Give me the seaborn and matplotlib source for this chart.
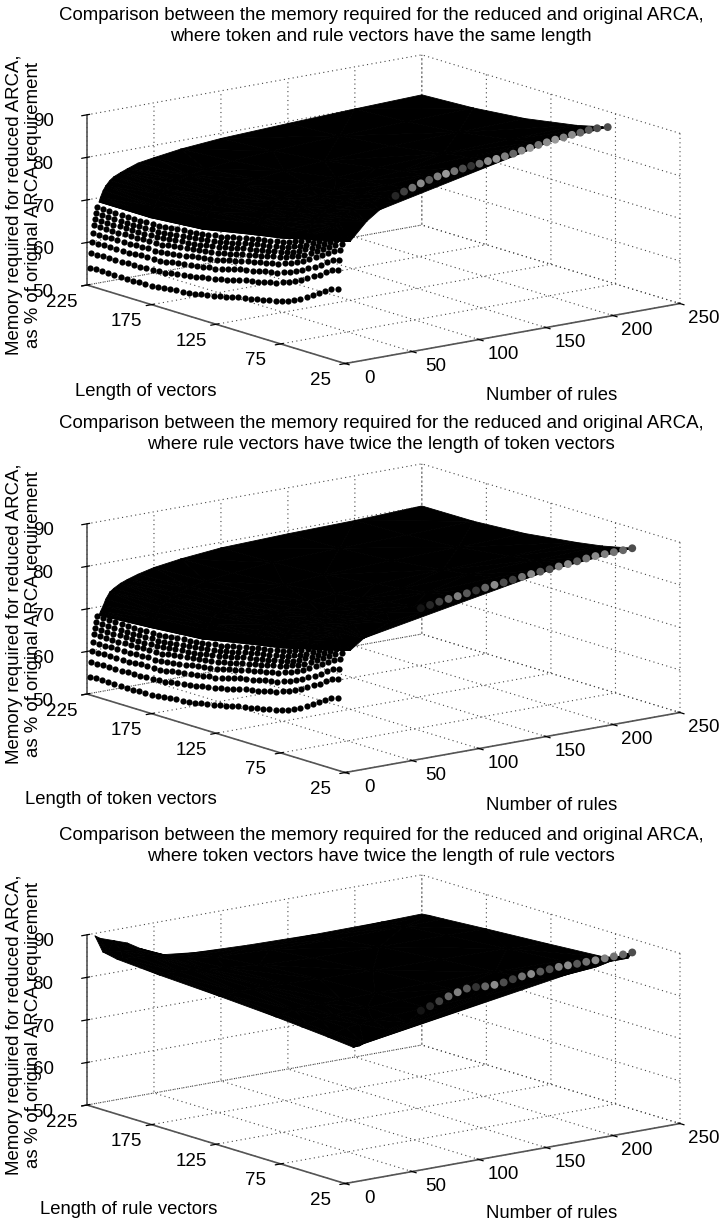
import numpy as np
import matplotlib
matplotlib.use("Agg")
import matplotlib.pyplot as plt
import seaborn as sns
from mpl_toolkits.mplot3d import proj3d

# axes
rule_ticks = [0, 50, 100, 150, 200, 250]
length_ticks = [25, 75, 125, 175, 225]
memory_ticks = [50, 60, 70, 80, 90]

titles = [
    "Comparison between the memory required for the reduced and original ARCA,\nwhere token and rule vectors have the same length",
    "Comparison between the memory required for the reduced and original ARCA,\nwhere rule vectors have twice the length of token vectors",
    "Comparison between the memory required for the reduced and original ARCA,\nwhere token vectors have twice the length of rule vectors",
]
length_labels = ["Length of vectors", "Length of token vectors", "Length of rule vectors"]
memory_label = "Memory required for reduced ARCA,\nas % of original ARCA requirement"

# the separate dotted rows at the low end (top two panels read the same here)
low_rules = [2, 2.7, 3.4, 4.2, 5.0, 5.8, 6.6, 7.4]
low_length = [225,220.2,215.4,210.6,205.8,201,196.2,191.4,186.6,181.8,177,172.2,167.4,162.6,157.8,153,148.2,143.4,138.6,133.8,129,124.2,119.4,114.6,109.8,105,100.2,95.4,90.6,85.8,81,76.2,71.4,66.6,61.8,57,52.2,47.4,42.6,37.8,33]
low_memory = [
    [54.0,54.0,54.0,54.0,54.0,54.0,54.0,54.0,54.1,54.2,54.1,54.2,54.4,54.6,54.8,55.0,55.2,55.4,55.7,56.0,56.1,56.5,56.8,57.2,57.6,57.9,58.2,58.5,58.8,59.2,59.4,59.9,60.4,61.0,61.7,62.5,63.4,64.3,65.3,66.2,66.7],
    [57.4,57.4,57.5,57.5,57.5,57.5,57.6,57.6,57.7,57.8,57.8,57.9,58.1,58.4,58.6,58.8,59.0,59.3,59.6,59.9,60.1,60.5,60.8,61.2,61.7,62.0,62.3,62.6,63.0,63.4,63.6,64.2,64.7,65.3,66.0,66.9,67.8,68.7,69.7,70.7,71.2],
    [60.0,60.0,60.0,60.1,60.1,60.1,60.1,60.1,60.3,60.4,60.3,60.4,60.6,60.9,61.1,61.3,61.5,61.7,62.1,62.4,62.5,62.9,63.2,63.7,64.1,64.4,64.7,65.1,65.4,65.8,66.0,66.5,67.0,67.7,68.4,69.2,70.1,71.0,72.0,73.0,73.5],
    [62.0,62.0,62.0,62.1,62.1,62.1,62.1,62.2,62.3,62.4,62.3,62.4,62.7,62.9,63.1,63.3,63.6,63.8,64.1,64.4,64.6,65.0,65.3,65.7,66.1,66.5,66.8,67.1,67.4,67.8,68.1,68.6,69.1,69.7,70.5,71.3,72.2,73.1,74.1,75.1,75.6],
    [63.8,63.8,63.8,63.8,63.8,63.9,63.9,63.9,64.0,64.1,64.0,64.1,64.4,64.6,64.8,65.0,65.2,65.4,65.7,66.0,66.1,66.5,66.8,67.2,67.6,67.9,68.2,68.6,68.9,69.3,69.6,70.1,70.6,71.2,71.9,72.7,73.6,74.5,75.5,76.5,77.0],
    [65.2,65.2,65.2,65.2,65.2,65.2,65.2,65.2,65.3,65.4,65.3,65.5,65.7,65.9,66.1,66.3,66.5,66.7,67.0,67.3,67.4,67.8,68.1,68.5,68.9,69.2,69.5,69.8,70.1,70.5,70.7,71.2,71.7,72.4,73.1,73.9,74.8,75.7,76.7,77.6,78.1],
    [66.5,66.5,66.5,66.5,66.5,66.5,66.5,66.5,66.6,66.7,66.6,66.7,66.9,67.1,67.3,67.5,67.7,67.9,68.2,68.5,68.6,69.0,69.3,69.7,70.1,70.4,70.7,71.0,71.3,71.7,71.9,72.4,72.9,73.5,74.2,75.0,75.9,76.8,77.8,78.5,79.0],
    [67.9,67.9,67.9,67.9,67.9,67.8,67.8,67.8,67.9,68.0,67.9,68.0,68.2,68.4,68.6,68.8,68.9,69.1,69.4,69.7,69.8,70.2,70.5,70.9,71.2,71.5,71.8,72.1,72.4,72.8,73.0,73.5,74.0,74.6,75.3,76.1,77.0,77.9,78.9,79.4,79.9],
]

# the solid black part of the top two panels
sheet_rules = [9, 10, 12, 14, 17, 20, 25, 30, 38, 50, 70, 100, 150, 200, 250]
sheet_length = [225, 185, 145, 105, 85, 65, 45]
nan = float("nan")
sheet_memory_same = [
    [69.0,69.0,70.0,72.4,73.5,75.2,78.1],
    [70.0,70.0,70.9,73.3,74.4,76.0,78.8],
    [71.5,71.6,72.5,74.8,75.8,77.3,79.9],
    [72.5,72.8,73.8,75.9,76.9,78.3,80.7],
    [73.6,74.1,75.1,77.1,78.0,79.3,81.5],
    [74.3,75.0,76.0,78.0,78.9,80.1,82.1],
    [75.0,75.9,77.0,79.0,79.9,81.0,82.9],
    [75.6,76.6,77.8,79.8,80.7,81.7,83.4],
    [76.5,77.4,78.7,80.7,81.6,82.5,84.0],
    [77.1,78.1,79.5,81.6,82.5,83.4,84.6],
    [78.0,78.9,80.3,82.4,83.4,84.3,85.4],
    [78.8,79.6,80.9,83.0,84.1,85.0,nan],
    [79.5,80.3,81.6,83.5,84.6,85.6,nan],
    [80.1,80.8,82.0,84.0,85.2,nan,nan],
    [80.6,81.2,82.4,84.5,86.0,nan,nan],
]
sheet_memory_token = [
    [68.0,68.8,69.8,72.2,73.3,75.0,77.9],
    [68.8,69.5,70.5,72.9,74.0,75.7,78.6],
    [70.0,70.8,71.8,74.2,75.2,76.8,79.6],
    [71.5,72.0,73.0,75.3,76.3,77.7,80.2],
    [73.0,73.4,74.4,76.5,77.4,78.6,80.9],
    [73.7,74.2,75.2,77.2,78.1,79.3,81.3],
    [74.6,75.1,76.1,78.0,78.9,80.0,81.8],
    [75.2,75.8,76.8,78.7,79.5,80.6,82.2],
    [76.0,76.6,77.6,79.4,80.2,81.2,82.6],
    [76.9,77.4,78.3,80.1,80.9,81.8,83.0],
    [77.8,78.2,79.1,80.7,81.5,82.4,83.4],
    [78.7,79.0,79.8,81.3,82.1,83.0,84.1],
    [79.2,79.5,80.3,81.8,82.6,83.7,nan],
    [79.5,79.8,80.6,82.2,83.1,84.2,nan],
    [80.1,80.2,81.0,82.6,83.6,85.0,nan],
]

sheet_rules_rule = [6, 10, 20, 30, 40, 55, 80, 120, 170, 220, 250]
sheet_length_rule = [225, 219, 208, 175, 128, 85, 65, 45]
sheet_memory_rule = [
    [89.4,86.2,85.5,84.8,84.1,83.3,82.8,82.3],
    [88.6,86.0,85.4,84.9,84.3,83.7,83.3,82.9],
    [87.5,85.6,85.2,84.9,84.5,84.2,83.9,83.6],
    [86.4,85.2,85.0,84.8,84.6,84.4,84.2,84.0],
    [84.5,84.4,84.3,84.4,84.5,84.5,84.4,84.3],
    [82.2,82.5,83.0,83.8,84.4,84.6,84.6,84.6],
    [81.3,81.5,81.9,83.0,84.1,84.7,84.9,85.0],
    [80.8,81.0,81.3,82.4,83.8,84.8,85.2,85.5],
    [80.5,80.7,81.0,82.2,83.6,84.7,85.3,nan],
    [80.6,80.8,81.1,82.1,83.3,84.4,85.2,nan],
    [80.8,81.0,81.2,81.9,82.8,83.7,85.2,nan],
]

# front edge of the sheets
edge_rules_same = [8, 21, 33, 46, 71, 132, 193, 250]
edge_length_same = [29.5, 30, 32.4, 35.3, 41, 54.6, 68, 81]
edge_memory_same = [77.8, 81.8, 83.6, 84.4, 85.5, 86.1, 87.1, 86.3]

edge_rules_token = [8, 16, 39, 68, 121, 177, 219, 250]
edge_length_token = [29.5, 27, 31, 35, 43, 51, 57.4, 62]
edge_memory_token = [77.8, 80.5, 82.7, 82.9, 84.7, 85.1, 85.4, 85.2]

edge_rules_rule = [6, 12, 16, 37, 54, 83, 121, 177, 219, 250]
edge_length_rule = [25, 26.2, 27.4, 30.5, 33, 37.3, 43, 51, 57.4, 62]
edge_memory_rule = [81.7, 81.6, 82.0, 83.6, 84.1, 85.1, 85.6, 85.6, 85.6, 86.8]

# grey dots along the front edge
bead_rules_same = [48,56,64,72,80,88,96,104,112,120,128,136,144,152,160,168,176,184,192,200,208,216,224,232,240,250]
bead_length_same = [35.8,37.5,39.3,41.1,42.9,44.7,46.5,48.3,50.1,51.9,53.7,55.5,57.3,59,60.8,62.6,64.4,66.2,68,69.8,71.6,73.4,75.2,77,78.8,81]
bead_memory_same = [85.7,86.1,86.4,86.8,87.0,87.2,87.2,87.2,87.2,87.2,87.1,87.1,87.0,87.0,87.0,87.1,87.1,87.2,87.2,87.2,87.1,87.1,87.0,87.0,86.8,86.3]
bead_shade_same = [.15,.25,.45,.55,.35,.5,.6,.45,.3,.2,.4,.55,.6,.5,.4,.55,.6,.45,.55,.6,.5,.55,.4,.35,.3,.3]

bead_rules = [66,74,82,90,98,106,114,122,130,138,146,154,162,170,178,186,194,202,210,218,226,234,242,250]
bead_length = [34.8,36,37.2,38.3,39.5,40.7,41.9,43.1,44.2,45.4,46.6,47.8,49,50.2,51.3,52.5,53.7,54.9,56.1,57.3,58.4,59.6,60.8,62]
bead_memory_token = [84.0,84.2,84.4,84.5,84.6,84.7,84.8,84.9,85.0,85.0,85.1,85.2,85.3,85.3,85.3,85.4,85.4,85.5,85.6,85.6,85.5,85.4,85.3,85.2]
bead_memory_rule = [86.0,86.5,87.1,87.7,88.1,88.4,88.2,87.8,87.6,87.6,87.8,87.9,87.9,87.9,87.9,87.9,87.7,87.5,87.4,87.2,87.1,87.0,86.9,86.8]
bead_shade = [.08,.15,.25,.4,.5,.35,.2,.4,.55,.3,.25,.45,.55,.35,.3,.5,.55,.35,.45,.55,.5,.45,.4,.3]

W, H = 721, 1225
sns.set_theme(style="white", rc={
    "axes.linewidth": 1.2,
    "axes.edgecolor": "#555555",
    "grid.color": "#444444",
    "grid.linestyle": (0, (1, 3)),
    "grid.linewidth": 0.8,
    "xtick.bottom": True,
    "ytick.left": True,
    "xtick.major.width": 0.9,
    "ytick.major.width": 0.9,
    "xtick.color": "black",
    "ytick.color": "black",
    "text.color": "black",
})
plt.rcParams["font.family"] = ["Liberation Sans", "DejaVu Sans"]


def corner_px(ax, x, y, z):
    px, py, _ = proj3d.proj_transform(x, y, z, ax.get_proj())
    return ax.transData.transform((px, py))


def fit_box(ax, y_shift):
    # puts the box corners on the reference's pixels
    side = 720
    aspect = (422, 424, 175)
    ax.set_position([0, 1 - (side + y_shift) / H, side / W, side / H])
    ax.set_box_aspect(aspect)
    ax.apply_aspect()
    left = corner_px(ax, 0, 225, 50)
    right = corner_px(ax, 250, 25, 50)
    ax.set_box_aspect(aspect, zoom=(680 - 87) / (right[0] - left[0]))
    ax.apply_aspect()
    left = corner_px(ax, 0, 225, 50)
    x0 = (87 - left[0]) / W
    y0 = (H - (285 + y_shift) - left[1]) / H
    pos = ax.get_position()
    ax.set_position([pos.x0 + x0, pos.y0 + y0, pos.width, pos.height])


def draw_panel(ax, y_shift, title, title_y, sheet, edge, beads, shades, low=None):
    ax.computed_zorder = False
    ax.set_proj_type("ortho")
    ax.view_init(elev=13.5, azim=-127.5)
    ax.set_facecolor("none")
    ax.set_xlim(0, 250, view_margin=0)
    ax.set_ylim(25, 225, view_margin=0)
    ax.set_zlim(50, 90, view_margin=0)
    ax.set_xticks(rule_ticks)
    ax.set_yticks(length_ticks)
    ax.set_zticks(memory_ticks)
    ax.tick_params(axis="both", labelsize=13.5, colors="black")
    ax.tick_params(axis="x", pad=17)
    ax.tick_params(axis="y", pad=12)
    ax.tick_params(axis="z", pad=12)
    for tick in ax.xaxis.get_major_ticks():
        tick.label1.set_va("bottom")
    for tick in ax.yaxis.get_major_ticks():
        tick.label1.set_va("center")
    for axis in (ax.xaxis, ax.yaxis, ax.zaxis):
        axis.pane.fill = False
        axis.pane.set_edgecolor("none")

    rules, lengths, memory = sheet
    rr, ll = np.meshgrid(rules, lengths, indexing="ij")
    zz = np.array(memory)
    keep = ~np.isnan(zz)
    x = np.concatenate([rr[keep], edge[0]])
    y = np.concatenate([ll[keep], edge[1]])
    z = np.concatenate([zz[keep], edge[2]])
    ax.plot_trisurf(x, y, z, color="black", edgecolor="black", linewidth=0.6,
                    shade=False, zorder=2)

    if low is not None:
        rr, ll = np.meshgrid(low[0], low[1], indexing="ij")
        ax.scatter(rr.ravel(), ll.ravel(), np.array(low[2]).ravel(), c="black", s=20,
                   linewidths=0, depthshade=False, zorder=3)

    ax.scatter(beads[0], beads[1], beads[2], c=[str(v) for v in shades], s=32,
               linewidths=0, depthshade=False, zorder=4)

    fit_box(ax, y_shift)

    fig.text(381 / W, 1 - title_y / H, title, ha="center", va="center",
             fontsize=13.4, linespacing=1.3)
    fig.text(24 / W, 1 - (205 + y_shift) / H, memory_label, rotation=90, ha="center",
             va="center", fontsize=13.4, linespacing=1.15)


fig = plt.figure(figsize=(W / 100, H / 100), dpi=100)
fig.patch.set_facecolor("white")

low = (low_rules, low_length, low_memory)
panels = [
    (0, (sheet_rules, sheet_length, sheet_memory_same),
     (edge_rules_same, edge_length_same, edge_memory_same),
     (bead_rules_same, bead_length_same, bead_memory_same), bead_shade_same, low),
    (409, (sheet_rules, sheet_length, sheet_memory_token),
     (edge_rules_token, edge_length_token, edge_memory_token),
     (bead_rules, bead_length, bead_memory_token), bead_shade, low),
    (820, (sheet_rules_rule, sheet_length_rule, sheet_memory_rule),
     (edge_rules_rule, edge_length_rule, edge_memory_rule),
     (bead_rules, bead_length, bead_memory_rule), bead_shade, None),
]
title_y = [26, 434, 846]
label_x = [146, 121, 129]
label_y = [391, 800, 1210]
rules_y = [395, 805, 1214]

for i, (shift, sheet, edge, beads, shades, low_part) in enumerate(panels):
    ax = fig.add_subplot(3, 1, i + 1, projection="3d")
    draw_panel(ax, shift, titles[i], title_y[i], sheet, edge, beads, shades, low_part)
    fig.text(label_x[i] / W, 1 - label_y[i] / H, length_labels[i], ha="center", va="center", fontsize=13.3)
    fig.text(552 / W, 1 - rules_y[i] / H, "Number of rules", ha="center", va="center", fontsize=13.3)

fig.savefig("out.png", dpi=100)
